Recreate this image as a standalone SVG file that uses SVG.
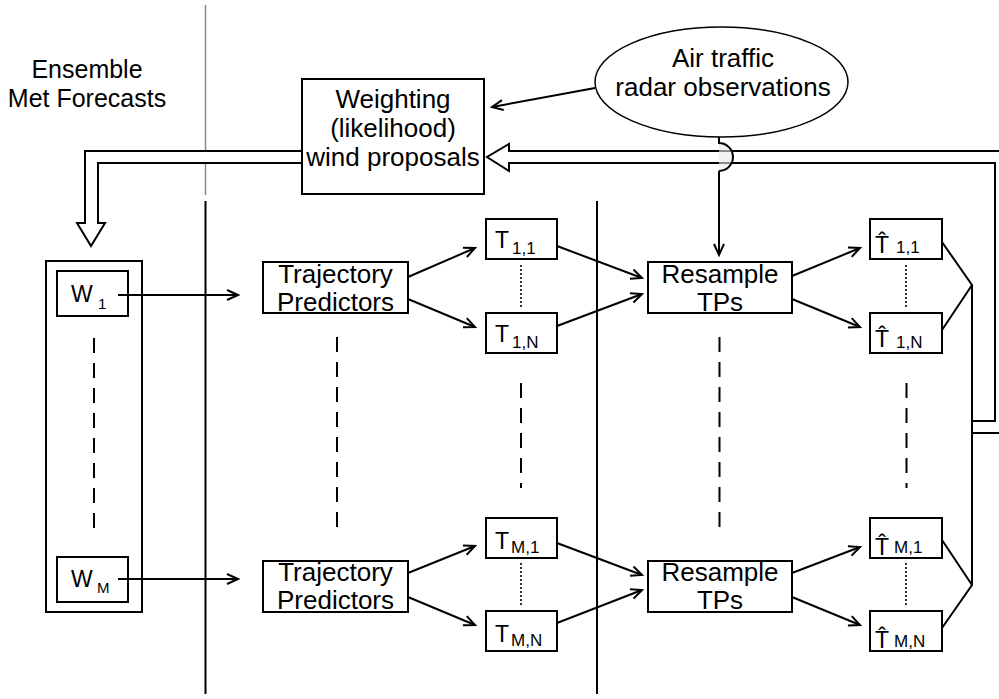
<svg xmlns="http://www.w3.org/2000/svg" width="999" height="699" viewBox="0 0 999 699">
<defs>
<style>
text{font-family:"Liberation Sans",Arial,sans-serif;fill:#000}
.lbl{font-size:26px;text-anchor:middle}
.big{font-size:23px}
.sub{font-size:17px}
.box{fill:#fff;stroke:#000;stroke-width:2}
.ln{fill:none;stroke:#000;stroke-width:2}
.arr{fill:none;stroke:#000;stroke-width:2;marker-end:url(#ah)}
.dash{fill:none;stroke:#000;stroke-width:2;stroke-dasharray:15 10}
.dot{fill:none;stroke:#000;stroke-width:1.6;stroke-dasharray:2 2}
</style>
<marker id="ah" markerUnits="userSpaceOnUse" markerWidth="14" markerHeight="14" refX="12" refY="6" orient="auto">
<path d="M1,1 L12,6 L1,11" fill="none" stroke="#000" stroke-width="2"/>
</marker>
</defs>
<rect width="999" height="699" fill="#fff"/>

<g id="separators">
<line x1="205.5" y1="5" x2="205.5" y2="195" stroke="#888" stroke-width="1.5"/>
<line x1="205.5" y1="201" x2="205.5" y2="694" class="ln"/>
<line x1="597" y1="201" x2="597" y2="694" class="ln"/>
</g>

<g id="ensemble-label">
<text class="lbl" x="87" y="78" style="font-size:25px">Ensemble</text>
<text class="lbl" x="87" y="107" style="font-size:25px">Met Forecasts</text>
</g>

<g id="connectors">
<path d="M302,151 H85 V223 H77 L91,246 L105,223 H98 V163 H302" fill="#fff" stroke="#000" stroke-width="2"/>
<path d="M1005,151 H509 V144 L487,157 L509,171 V163 H995 V421 H972" fill="#fff" stroke="#000" stroke-width="2"/>
<line x1="972" y1="433" x2="1005" y2="433" class="ln"/>
<line x1="972" y1="285" x2="972" y2="585" class="ln"/>
<path d="M942,242 L972,285 L942,330" class="ln"/>
<path d="M942,540 L972,585 L942,628" class="ln"/>
<path d="M719,137 V143 A14,14 0 0 1 719,171" fill="#e8e8e8" fill-opacity="0.6" stroke="#000" stroke-width="2"/>
<line x1="719" y1="171" x2="719" y2="255" class="arr"/>
<line x1="595" y1="88" x2="492" y2="107" class="arr"/>
<line x1="118" y1="295" x2="238" y2="295" class="arr"/>
<line x1="118" y1="579" x2="238" y2="579" class="arr"/>
<line x1="408" y1="277" x2="475" y2="248" class="arr"/>
<line x1="408" y1="299" x2="475" y2="327" class="arr"/>
<line x1="557" y1="246" x2="642" y2="278" class="arr"/>
<line x1="557" y1="326" x2="642" y2="294" class="arr"/>
<line x1="792" y1="276" x2="860" y2="248" class="arr"/>
<line x1="792" y1="299" x2="860" y2="327" class="arr"/>
<line x1="408" y1="573" x2="475" y2="546" class="arr"/>
<line x1="408" y1="597" x2="475" y2="625" class="arr"/>
<line x1="557" y1="543" x2="642" y2="575" class="arr"/>
<line x1="557" y1="623" x2="642" y2="590" class="arr"/>
<line x1="792" y1="573" x2="860" y2="547" class="arr"/>
<line x1="792" y1="597" x2="860" y2="625" class="arr"/>
<line x1="94" y1="338" x2="94" y2="534" class="dash"/>
<line x1="337" y1="337" x2="337" y2="534" class="dash"/>
<line x1="521" y1="383" x2="521" y2="488" class="dash"/>
<line x1="719.5" y1="337" x2="719.5" y2="534" class="dash"/>
<line x1="906.5" y1="383" x2="906.5" y2="488" class="dash"/>
<line x1="521" y1="265" x2="521" y2="307" class="dot"/>
<line x1="906" y1="265" x2="906" y2="307" class="dot"/>
<line x1="521" y1="563" x2="521" y2="605" class="dot"/>
<line x1="906" y1="563" x2="906" y2="605" class="dot"/>
</g>

<g id="radar">
<ellipse cx="721.5" cy="82" rx="126.5" ry="55" fill="#fff" stroke="#000" stroke-width="1.5"/>
<text class="lbl" x="723" y="67">Air traffic</text>
<text class="lbl" x="723" y="96">radar observations</text>
</g>

<g id="weighting">
<rect x="302" y="79" width="182" height="115" class="box" style="fill:none"/>
<text class="lbl" x="393" y="108">Weighting</text>
<text class="lbl" x="393" y="137">(likelihood)</text>
<text class="lbl" x="393" y="166">wind proposals</text>
</g>

<g id="ensemble">
<rect x="46" y="261" width="96" height="351" class="box" style="fill:none"/>
</g>
<g id="w1">
<rect x="57" y="271" width="71" height="45" class="box" style="fill:none"/>
<text class="big" x="71" y="302">W</text><text x="98" y="309" style="font-size:15px">1</text>
</g>
<g id="wM">
<rect x="57" y="557" width="71" height="45" class="box" style="fill:none"/>
<text class="big" x="71" y="587">W</text><text x="97" y="593" style="font-size:15px">M</text>
</g>

<g id="tp1">
<rect x="263" y="262" width="145" height="51" class="box" style="fill:none"/>
<text class="lbl" x="335.5" y="283">Trajectory</text>
<text class="lbl" x="335.5" y="311">Predictors</text>
</g>
<g id="tpM">
<rect x="263" y="561" width="145" height="51" class="box" style="fill:none"/>
<text class="lbl" x="335.5" y="581">Trajectory</text>
<text class="lbl" x="335.5" y="609">Predictors</text>
</g>

<g id="t11">
<rect x="486" y="219" width="71" height="40" class="box"/>
<text class="big" x="495" y="248">T</text><text class="sub" x="512" y="254">1,1</text>
</g>
<g id="t1N">
<rect x="486" y="313" width="71" height="40" class="box"/>
<text class="big" x="495" y="342">T</text><text class="sub" x="512" y="348">1,N</text>
</g>
<g id="tM1">
<rect x="486" y="518" width="71" height="40" class="box"/>
<text class="big" x="495" y="549">T</text><text class="sub" x="511" y="553">M,1</text>
</g>
<g id="tMN">
<rect x="486" y="611" width="71" height="40" class="box"/>
<text class="big" x="495" y="642">T</text><text class="sub" x="511" y="646">M,N</text>
</g>

<g id="rs1">
<rect x="648" y="262" width="144" height="51" class="box" style="fill:none"/>
<text class="lbl" x="720" y="283">Resample</text>
<text class="lbl" x="720" y="311">TPs</text>
</g>
<g id="rsM">
<rect x="648" y="561" width="144" height="51" class="box" style="fill:none"/>
<text class="lbl" x="720" y="581">Resample</text>
<text class="lbl" x="720" y="609">TPs</text>
</g>

<g id="th11">
<rect x="870" y="219" width="72" height="40" class="box"/>
<text class="big" x="875" y="253">T&#x302;</text><text class="sub" x="896" y="253">1,1</text>
</g>
<g id="th1N">
<rect x="870" y="313" width="72" height="40" class="box"/>
<text class="big" x="875" y="347">T&#x302;</text><text class="sub" x="896" y="348">1,N</text>
</g>
<g id="thM1">
<rect x="870" y="518" width="72" height="40" class="box"/>
<text class="big" x="875" y="555">T&#x302;</text><text class="sub" x="894" y="553">M,1</text>
</g>
<g id="thMN">
<rect x="870" y="611" width="72" height="40" class="box"/>
<text class="big" x="875" y="648">T&#x302;</text><text class="sub" x="894" y="647">M,N</text>
</g>
</svg>
